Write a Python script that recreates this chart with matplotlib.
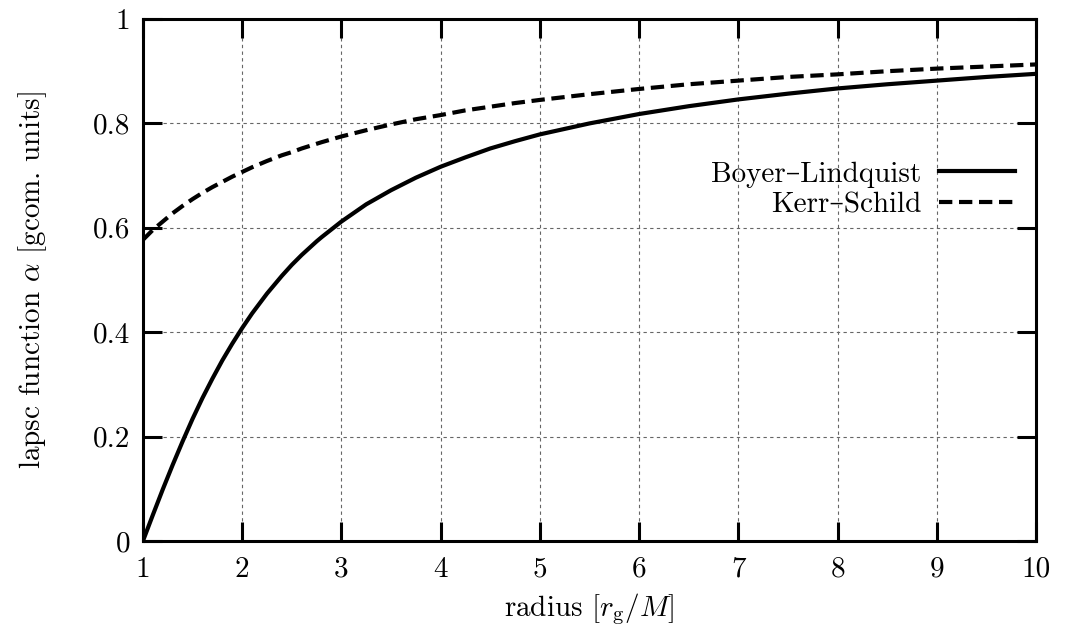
import matplotlib
matplotlib.use("Agg")
import matplotlib.pyplot as plt

# radius [r_g/M] and lapse values
radius = [1.0, 1.1, 1.2, 1.3, 1.4, 1.5, 1.6, 1.7, 1.8, 1.9, 2.0, 2.1, 2.25,
          2.4, 2.5, 2.6, 2.75, 2.8, 3.0, 3.25, 3.5, 3.75, 4.0, 4.25, 4.5,
          4.75, 5.0, 5.5, 6.0, 6.5, 7.0, 7.5, 8.0, 8.5, 9.0, 9.5, 10.0]
alpha_bl = [0.0, 0.05, 0.099, 0.146, 0.191, 0.234, 0.274, 0.311, 0.346,
            0.378, 0.408, 0.436, 0.474, 0.508, 0.529, 0.548, 0.574, 0.582,
            0.612, 0.645, 0.672, 0.696, 0.717, 0.735, 0.752, 0.766, 0.779,
            0.800, 0.818, 0.833, 0.846, 0.857, 0.867, 0.875, 0.882, 0.889,
            0.895]
alpha_ks = [0.577, 0.596, 0.612, 0.628, 0.642, 0.655, 0.667, 0.678, 0.688,
            0.698, 0.707, 0.716, 0.728, 0.739, 0.745, 0.752, 0.761, 0.764,
            0.775, 0.787, 0.798, 0.808, 0.816, 0.825, 0.832, 0.839, 0.845,
            0.856, 0.866, 0.875, 0.882, 0.889, 0.894, 0.900, 0.905, 0.909,
            0.913]
labels = ["Boyer\u2013Lindquist", "Kerr\u2013Schild"]
xticks = [1, 2, 3, 4, 5, 6, 7, 8, 9, 10]
yticks = [0, 0.2, 0.4, 0.6, 0.8, 1]
yticklabels = ["0", "0.2", "0.4", "0.6", "0.8", "1"]

plt.rcParams['font.family'] = ['cmr10', 'DejaVu Serif']
plt.rcParams['mathtext.fontset'] = 'cm'
plt.rcParams['axes.unicode_minus'] = False

fs = 21
fig = plt.figure(figsize=(10.66, 6.3), dpi=100)
ax = fig.add_axes([0.1341, 0.1413, 0.8378, 0.8285])

ax.plot(radius, alpha_bl, color='black', lw=3, label=labels[0])
ax.plot(radius, alpha_ks, color='black', lw=3, dashes=(3.2, 1.6), label=labels[1])

ax.set_xlim(1, 10)
ax.set_ylim(0, 1)
ax.set_xticks(xticks)
ax.set_xticklabels([str(t) for t in xticks])
ax.set_yticks(yticks)
ax.set_yticklabels(yticklabels)
ax.grid(True, color='0.4', lw=0.8, ls=(0, (3, 3)))
ax.set_axisbelow(True)

for s in ax.spines.values():
    s.set_linewidth(2.2)
ax.tick_params(direction='in', length=14, width=2.2, top=True, right=True,
               labelsize=fs, pad=9)
ax.tick_params(axis='x', pad=11)

ax.set_xlabel(r"radius $[r_{\rm g}/M]$", fontsize=fs, labelpad=6)
ax.set_ylabel(r"lapsc function $\alpha$ [gcom. units]", fontsize=fs, labelpad=32)

ax.legend(loc='center right', bbox_to_anchor=(0.976, 0.673), frameon=False,
          markerfirst=False, fontsize=fs, handlelength=2.6, borderpad=0,
          borderaxespad=0, labelspacing=0.15, handletextpad=0.6)

fig.savefig("out.png", dpi=100)
